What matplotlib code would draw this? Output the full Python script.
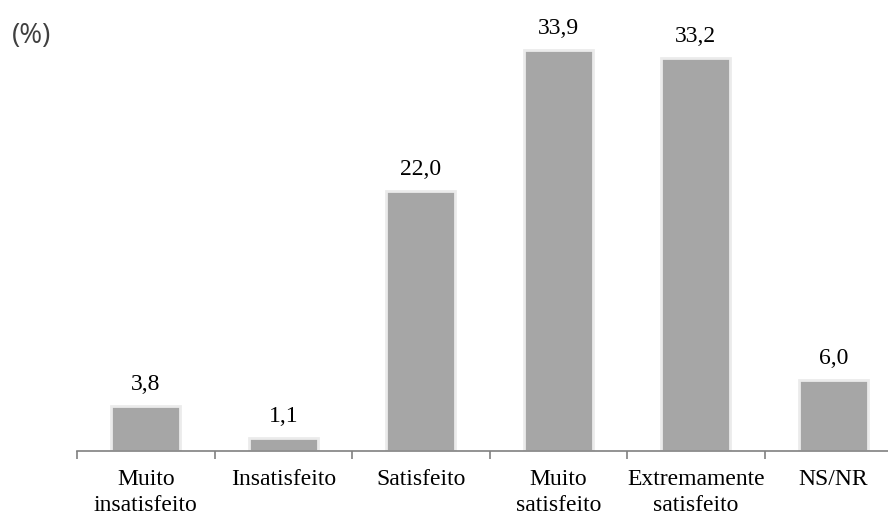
import matplotlib.pyplot as plt

categorias = ["Muito\ninsatisfeito", "Insatisfeito", "Satisfeito",
              "Muito\nsatisfeito", "Extremamente\nsatisfeito", "NS/NR"]
valores = [3.8, 1.1, 22.0, 33.9, 33.2, 6.0]
rotulos = ["3,8", "1,1", "22,0", "33,9", "33,2", "6,0"]

fig = plt.figure(figsize=(8.88, 5.15), dpi=100)
ax = fig.add_axes([77 / 888, 64 / 515, 825 / 888, 426 / 515])

x = range(len(valores))
# leve "brilho" em volta das barras
ax.bar(x, valores, width=0.5, color="#a6a6a6", edgecolor="#ebebeb", linewidth=2)

for i, (v, r) in enumerate(zip(valores, rotulos)):
    ax.annotate(r, (i, v), xytext=(0, 8), textcoords="offset points",
                ha="center", va="bottom", fontsize=17, family="Liberation Serif")

ax.set_xlim(-0.5, 5.5)
ax.set_ylim(0, 36)
ax.set_yticks([])
for s in ["top", "right", "left"]:
    ax.spines[s].set_visible(False)
ax.spines["bottom"].set_color("#808080")
ax.spines["bottom"].set_linewidth(1.2)

ax.set_xticks([i - 0.5 for i in range(7)])
ax.set_xticklabels([])
ax.tick_params(axis="x", length=5.5, color="#808080", width=1.2, direction="out")
ax.set_xticks(list(x), minor=True)
ax.set_xticklabels(categorias, minor=True, fontsize=17, family="Liberation Serif",
                   linespacing=1.3)
ax.tick_params(axis="x", which="minor", length=0, pad=13)

fig.text(12 / 888, 1 - 36 / 515, "(%)", fontsize=20, color="#404040",
         family="Open Sans", va="center")

plt.savefig("out.png", dpi=100)
